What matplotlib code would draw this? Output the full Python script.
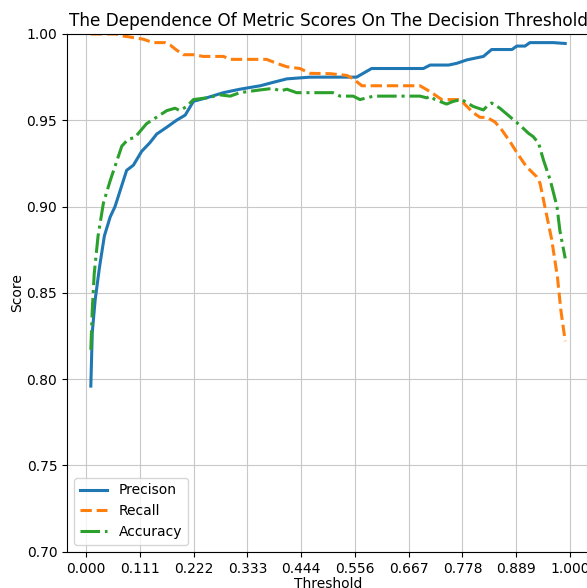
import numpy as np
import matplotlib
matplotlib.use("Agg")
import matplotlib.pyplot as plt

# Precision
prec_t = [0.01, 0.013, 0.019, 0.028, 0.038, 0.05, 0.06, 0.084, 0.098, 0.115, 0.132, 0.146,
          0.167, 0.187, 0.205, 0.222, 0.249, 0.284, 0.318, 0.36, 0.387, 0.415, 0.463, 0.504,
          0.559, 0.59, 0.697, 0.711, 0.749, 0.766, 0.787, 0.821, 0.838, 0.88, 0.89, 0.907,
          0.917, 0.965, 0.99]
prec_v = [0.796, 0.827, 0.846, 0.865, 0.883, 0.894, 0.900, 0.921, 0.924, 0.932, 0.937, 0.942,
          0.946, 0.950, 0.953, 0.961, 0.963, 0.966, 0.968, 0.970, 0.972, 0.974, 0.975, 0.975,
          0.975, 0.980, 0.980, 0.982, 0.982, 0.983, 0.985, 0.987, 0.991, 0.991, 0.993, 0.993,
          0.995, 0.995, 0.9945]

# Recall
rec_t = [0.01, 0.063, 0.07, 0.085, 0.118, 0.139, 0.163, 0.174, 0.187, 0.201, 0.222, 0.242,
         0.284, 0.298, 0.373, 0.394, 0.415, 0.442, 0.463, 0.504, 0.539, 0.552, 0.57, 0.69,
         0.711, 0.735, 0.773, 0.787, 0.80, 0.814, 0.828, 0.845, 0.859, 0.876, 0.893, 0.91,
         0.931, 0.938, 0.945, 0.962, 0.974, 0.981, 0.99]
rec_v = [1.0, 1.0, 0.999, 0.9985, 0.997, 0.995, 0.995, 0.9936, 0.9907, 0.988, 0.988, 0.987,
         0.987, 0.9853, 0.9853, 0.983, 0.981, 0.980, 0.9772, 0.977, 0.976, 0.974, 0.970, 0.970,
         0.9666, 0.962, 0.962, 0.958, 0.9544, 0.9517, 0.9517, 0.949, 0.9444, 0.9376, 0.930, 0.9231,
         0.9173, 0.9135, 0.904, 0.881, 0.859, 0.840, 0.822]

# Accuracy
acc_t = [0.01, 0.013, 0.017, 0.025, 0.036, 0.05, 0.074, 0.087, 0.101, 0.125, 0.136, 0.167,
         0.184, 0.194, 0.208, 0.222, 0.249, 0.277, 0.298, 0.318, 0.36, 0.387, 0.401, 0.415,
         0.435, 0.51, 0.525, 0.552, 0.566, 0.594, 0.69, 0.704, 0.711, 0.721, 0.745, 0.759,
         0.776, 0.80, 0.821, 0.828, 0.838, 0.855, 0.876, 0.897, 0.914, 0.924, 0.935, 0.945,
         0.959, 0.973, 0.979, 0.99]
acc_v = [0.817, 0.840, 0.861, 0.883, 0.902, 0.915, 0.935, 0.939, 0.940, 0.948, 0.950, 0.9556,
         0.957, 0.9556, 0.958, 0.962, 0.963, 0.9647, 0.964, 0.966, 0.9676, 0.9685, 0.967, 0.968,
         0.966, 0.966, 0.964, 0.964, 0.962, 0.964, 0.964, 0.963, 0.964, 0.962, 0.9594, 0.961,
         0.962, 0.958, 0.956, 0.958, 0.960, 0.957, 0.952, 0.947, 0.9425, 0.9405, 0.9367, 0.927,
         0.9154, 0.900, 0.886, 0.870]

xticks = np.linspace(0, 1, 10)
yticks = [0.70, 0.75, 0.80, 0.85, 0.90, 0.95, 1.00]

fig = plt.figure(figsize=(5.87, 5.88), dpi=100)
ax = fig.add_axes([0.1143, 0.0616, 0.889, 0.8806])
ax.plot(prec_t, prec_v, '-', color='tab:blue', lw=2.2, label='Precison')
ax.plot(rec_t, rec_v, '--', color='tab:orange', lw=2.2, label='Recall')
ax.plot(acc_t, acc_v, '-.', color='tab:green', lw=2.2, label='Accuracy')
ax.set_xticks(xticks)
ax.set_xticklabels([f"{x:.3f}" for x in xticks])
ax.set_yticks(yticks)
ax.set_yticklabels([f"{y:.2f}" for y in yticks])
ax.set_ylim(0.70, 1.00)
ax.grid(True, color='#c8c8c8')
ax.set_xlabel("Threshold", labelpad=1)
ax.set_ylabel("Score", labelpad=2)
ax.set_title("The Dependence Of Metric Scores On The Decision Threshold", fontsize=12.2)
ax.legend(loc='lower left')
fig.savefig("out.png", dpi=100)
